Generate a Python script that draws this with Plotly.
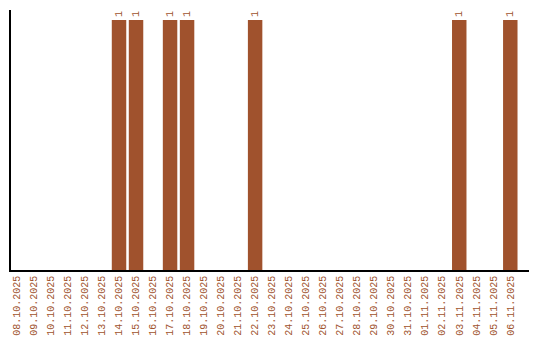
import plotly.graph_objects as go

dates = ["08.10.2025","09.10.2025","10.10.2025","11.10.2025","12.10.2025","13.10.2025",
         "14.10.2025","15.10.2025","16.10.2025","17.10.2025","18.10.2025","19.10.2025",
         "20.10.2025","21.10.2025","22.10.2025","23.10.2025","24.10.2025","25.10.2025",
         "26.10.2025","27.10.2025","28.10.2025","29.10.2025","30.10.2025","31.10.2025",
         "01.11.2025","02.11.2025","03.11.2025","04.11.2025","05.11.2025","06.11.2025"]
counts = [0,0,0,0,0,0,1,1,0,1,1,0,0,0,1,0,0,0,0,0,0,0,0,0,0,0,1,0,0,1]
labels = [str(c) if c else "" for c in counts]

color = "#A0522D"
font_family = "Liberation Mono"
fig = go.Figure(go.Bar(
    x=dates, y=counts, marker_color=color, marker_line_width=0,
    text=labels, textposition="outside", textangle=-90, cliponaxis=False,
    textfont=dict(family=font_family, size=10, color=color),
))
fig.update_layout(
    width=540, height=340, margin=dict(l=11, r=11, t=10, b=70),
    plot_bgcolor="white", paper_bgcolor="white", bargap=0.15,
    showlegend=False,
    font=dict(family=font_family, size=10, color=color),
)
fig.update_xaxes(type="category", range=[-0.35, 30.1], showline=True, linecolor="black",
                 linewidth=1.5, tickangle=-90, showgrid=False, ticks="",
                 tickfont=dict(family=font_family, size=10, color=color), automargin=False)
fig.update_yaxes(range=[0, 1.04], showline=True, linecolor="black", linewidth=1.5,
                 showticklabels=False, showgrid=False, zeroline=False, ticks="", automargin=False)
fig.write_html("out.html")
